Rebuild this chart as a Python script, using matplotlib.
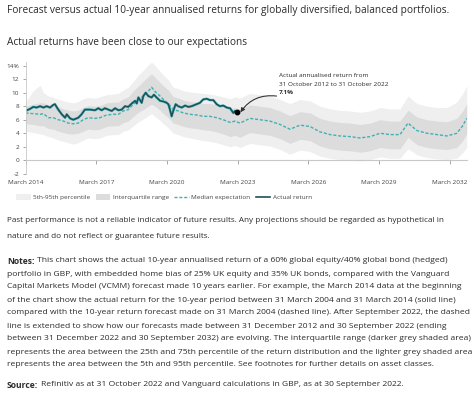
import matplotlib
matplotlib.use("Agg")
import matplotlib.pyplot as plt
from matplotlib.patches import Patch
from matplotlib.lines import Line2D

OUT_PNG = "out.png"

# x = дробный год (March 2014 = 2014.25)
ACT_X = [2014.25, 2014.44, 2014.58, 2014.72, 2014.87, 2015.01, 2015.15, 2015.29, 2015.43, 2015.50,
         2015.64, 2015.79, 2015.93, 2016.00, 2016.14, 2016.28, 2016.49, 2016.63, 2016.77, 2016.99,
         2017.20, 2017.34, 2017.48, 2017.62, 2017.76, 2017.91, 2018.05, 2018.19, 2018.33, 2018.47,
         2018.61, 2018.76, 2018.90, 2018.97, 2019.04, 2019.18, 2019.25, 2019.35, 2019.46, 2019.60,
         2019.70, 2019.81, 2019.96, 2020.10, 2020.24, 2020.31, 2020.38, 2020.45, 2020.52, 2020.62,
         2020.73, 2020.88, 2021.02, 2021.16, 2021.30, 2021.51, 2021.65, 2021.79, 2021.94, 2022.08,
         2022.22, 2022.36, 2022.50, 2022.64, 2022.79, 2022.93, 2023.07, 2023.14, 2023.22]
ACT_Y = [7.3, 7.6, 7.9, 7.8, 8.0, 7.8, 8.0, 7.8, 8.2, 8.3,
         7.5, 6.8, 6.3, 6.8, 6.2, 6.0, 6.3, 6.8, 7.5, 7.5,
         7.4, 7.7, 7.4, 7.7, 7.5, 7.3, 7.7, 7.4, 7.5, 8.0,
         7.9, 8.4, 8.8, 8.4, 9.3, 8.5, 9.5, 10.0, 9.5, 9.3,
         9.7, 9.3, 8.8, 8.7, 8.5, 8.3, 7.5, 6.5, 7.3, 8.3,
         8.0, 7.8, 8.1, 7.9, 8.0, 8.3, 8.5, 9.0, 9.1, 8.9,
         8.9, 8.3, 8.0, 8.1, 7.8, 7.7, 7.0, 7.3, 7.1]

MED_X = [2014.25, 2014.58, 2014.87, 2015.01, 2015.22, 2015.43, 2015.64, 2015.86, 2016.07, 2016.28,
         2016.49, 2016.70, 2016.91, 2017.20, 2017.41, 2017.69, 2017.98, 2018.19, 2018.40, 2018.61,
         2018.83, 2019.04, 2019.25, 2019.46, 2019.60, 2019.74, 2019.96, 2020.10, 2020.31, 2020.52,
         2020.73, 2020.95, 2021.23, 2021.51, 2021.79, 2022.08, 2022.36, 2022.64, 2022.93, 2023.14,
         2023.35, 2023.77, 2024.20, 2024.62, 2025.05, 2025.47, 2025.90, 2026.32, 2026.75, 2027.17,
         2027.59, 2028.02, 2028.44, 2028.87, 2029.30, 2029.72, 2030.14, 2030.48, 2030.86, 2031.28,
         2031.71, 2032.13, 2032.55, 2032.80, 2032.97]
MED_Y = [7.0, 6.9, 6.8, 6.9, 6.3, 6.3, 6.0, 5.8, 5.5, 5.4,
         5.5, 6.0, 6.3, 6.2, 6.3, 6.7, 6.8, 6.8, 7.3, 7.5,
         8.3, 9.0, 9.5, 10.2, 10.8, 10.2, 9.5, 9.0, 8.4, 7.5,
         7.3, 7.0, 6.8, 6.7, 6.5, 6.5, 6.3, 6.0, 5.6, 5.8,
         5.5, 6.2, 6.0, 5.8, 5.3, 4.6, 5.2, 5.0, 4.2, 3.8,
         3.6, 3.5, 3.3, 3.5, 4.0, 3.8, 3.8, 5.5, 4.4, 4.0,
         3.8, 3.6, 4.0, 5.1, 6.2]

P95 = [8.6, 10.3, 11.1, 10.0, 9.5, 9.3, 9.0, 8.8, 8.6, 8.5,
       8.7, 9.1, 9.3, 9.2, 9.4, 9.7, 9.8, 9.9, 10.4, 10.8,
       11.7, 12.6, 13.3, 14.1, 14.5, 14.0, 13.2, 12.6, 11.9, 10.8,
       10.6, 10.3, 10.1, 10.0, 9.9, 9.8, 9.6, 9.4, 9.1, 9.4,
       9.2, 9.9, 9.7, 9.5, 9.0, 8.4, 9.0, 8.8, 8.0, 7.6,
       7.4, 7.3, 7.1, 7.3, 7.8, 7.6, 7.6, 9.5, 8.4, 8.0,
       7.8, 7.8, 8.6, 9.9, 11.0]
P75 = [8.0, 8.3, 8.5, 8.5, 8.2, 8.1, 7.9, 7.6, 7.4, 7.3,
       7.4, 7.8, 8.1, 8.0, 8.1, 8.5, 8.6, 8.6, 9.1, 9.4,
       10.3, 11.0, 11.7, 12.4, 12.8, 12.3, 11.5, 11.0, 10.4, 9.4,
       9.2, 8.9, 8.7, 8.6, 8.4, 8.4, 8.2, 7.9, 7.6, 7.8,
       7.5, 8.2, 8.0, 7.8, 7.3, 6.6, 7.2, 7.0, 6.2, 5.8,
       5.6, 5.5, 5.3, 5.5, 6.0, 5.8, 5.8, 7.4, 6.4, 6.0,
       5.8, 5.7, 6.2, 7.3, 8.3]
P25 = [5.4, 5.3, 5.1, 5.1, 4.7, 4.6, 4.3, 4.1, 3.9, 3.9,
       4.0, 4.3, 4.6, 4.5, 4.6, 5.0, 5.1, 5.1, 5.6, 5.8,
       6.5, 7.1, 7.5, 8.0, 8.3, 8.0, 7.4, 6.9, 6.3, 5.5,
       5.3, 5.0, 4.8, 4.7, 4.5, 4.4, 4.2, 3.9, 3.5, 3.7,
       3.4, 4.1, 3.9, 3.7, 3.2, 2.5, 3.1, 2.9, 2.1, 1.7,
       1.5, 1.4, 1.2, 1.4, 1.9, 1.7, 1.7, 3.4, 2.3, 1.9,
       1.7, 1.6, 1.9, 2.9, 3.9]
P5 = [4.3, 4.1, 3.9, 3.8, 3.5, 3.3, 3.0, 2.8, 2.6, 2.4,
      2.6, 3.0, 3.3, 3.2, 3.3, 3.7, 3.8, 3.8, 4.3, 4.5,
      5.1, 5.7, 6.1, 6.6, 6.9, 6.5, 5.9, 5.4, 4.8, 4.0,
      3.8, 3.5, 3.3, 3.1, 2.9, 2.8, 2.6, 2.3, 2.0, 2.2,
      1.9, 2.5, 2.3, 2.1, 1.6, 0.9, 1.5, 1.3, 0.6, 0.3,
      0.1, 0.0, -0.1, 0.1, 0.5, 0.3, 0.3, 1.7, 0.8, 0.4,
      0.2, 0.1, 0.3, 1.1, 1.9]

TICK_YEARS = [2014.25, 2017.25, 2020.25, 2023.25, 2026.25, 2029.25, 2032.25]
TICK_LABELS = ["March 2014", "March 2017", "March 2020", "March 2023",
               "March 2026", "March 2029", "March 2032"]
Y_TICKS = [-2, 0, 2, 4, 6, 8, 10, 12, 14]
Y_LABELS = ["-2", "0", "2", "4", "6", "8", "10", "12", "14%"]

TITLE = "Forecast versus actual 10-year annualised returns for globally diversified, balanced portfolios."
SUBTITLE = "Actual returns have been close to our expectations"

PAST = [
    "Past performance is not a reliable indicator of future results. Any projections should be regarded as hypothetical in",
    "nature and do not reflect or guarantee future results.",
]
NOTES = [
    "This chart shows the actual 10-year annualised return of a 60% global equity/40% global bond (hedged)",
    "portfolio in GBP, with embedded home bias of 25% UK equity and 35% UK bonds, compared with the Vanguard",
    "Capital Markets Model (VCMM) forecast made 10 years earlier. For example, the March 2014 data at the beginning",
    "of the chart show the actual return for the 10-year period between 31 March 2004 and 31 March 2014 (solid line)",
    "compared with the 10-year return forecast made on 31 March 2004 (dashed line). After September 2022, the dashed",
    "line is extended to show how our forecasts made between 31 December 2012 and 30 September 2022 (ending",
    "between 31 December 2022 and 30 September 2032) are evolving. The interquartile range (darker grey shaded area)",
    "represents the area between the 25th and 75th percentile of the return distribution and the lighter grey shaded area",
    "represents the area between the 5th and 95th percentile. See footnotes for further details on asset classes.",
]
SOURCE = "Refinitiv as at 31 October 2022 and Vanguard calculations in GBP, as at 30 September 2022."

# правый край строк в референсе, px
NOTES_RIGHT = [447, 444, 460, 456, 458, 451, 464, 466, 404]

LIGHT = "#efefef"
DARK = "#dcdcdc"
MED_COL = "#3fb1b1"
ACT_COL = "#1f4f59"
TXT = "#2b2b2b"
FS_SMALL = 4.6
LEFT_PX = 7
MAX_RIGHT = 470

W, H = 474, 395


def fy(y_px):
    return 1 - y_px / H


def fx(x_px):
    return x_px / W


def line_width(fig, text, head=None, size=10.0):
    r = fig.canvas.get_renderer()
    w = 0.0
    if head:
        t = fig.text(0, 0, head, fontsize=size, fontweight="bold")
        w += t.get_window_extent(renderer=r).width + 0.28 * size * 100 / 72
        t.remove()
    t = fig.text(0, 0, text, fontsize=size)
    w += t.get_window_extent(renderer=r).width
    t.remove()
    return w


def fit_size(fig, text, right_px, head=None):
    return 10.0 * (right_px - LEFT_PX) / line_width(fig, text, head)


def put_line(fig, y_px, text, size, head=None):
    r = fig.canvas.get_renderer()
    # не вылезать за правый край
    size = min(size, fit_size(fig, text, MAX_RIGHT, head))
    x = LEFT_PX
    if head:
        t = fig.text(fx(x), fy(y_px), head, fontsize=size, fontweight="bold", color=TXT, va="center")
        x += t.get_window_extent(renderer=r).width + 0.28 * size * 100 / 72
    fig.text(fx(x), fy(y_px), text, fontsize=size, color=TXT, va="center")


def main():
    plt.rcParams["font.family"] = ["Open Sans", "DejaVu Sans"]

    fig = plt.figure(figsize=(W / 100, H / 100), dpi=100)
    ax = fig.add_axes([fx(25.5), fy(173.8), fx(467.4) - fx(25.5), fy(61.6) - fy(173.8)])

    ax.fill_between(MED_X, P5, P95, color=LIGHT, lw=0)
    ax.fill_between(MED_X, P25, P75, color=DARK, lw=0)
    ax.plot(MED_X, MED_Y, color=MED_COL, lw=1.0, ls=(0, (2.2, 1.3)))
    ax.plot(ACT_X, ACT_Y, color="#49b8b8", lw=1.8, solid_joinstyle="round")
    ax.plot(ACT_X, ACT_Y, color=ACT_COL, lw=1.1, solid_joinstyle="round")
    ax.plot([ACT_X[-1]], [ACT_Y[-1]], "o", color="black", ms=3.2, zorder=5)

    ax.set_xlim(2014.25, 2033.0)
    ax.set_ylim(-2, 14.6)
    for s in ["top", "right"]:
        ax.spines[s].set_visible(False)
    ax.spines["bottom"].set_position(("data", 0))
    ax.spines["bottom"].set_color("#c8c8c8")
    ax.spines["left"].set_color("#c8c8c8")
    ax.spines["bottom"].set_linewidth(0.8)
    ax.spines["left"].set_linewidth(0.6)

    ax.set_yticks(Y_TICKS)
    ax.set_yticklabels(Y_LABELS)
    ax.set_xticks(TICK_YEARS)
    ax.set_xticklabels(TICK_LABELS)
    ax.tick_params(axis="y", length=2.5, width=0.6, color="#999999", pad=2,
                   labelsize=FS_SMALL, labelcolor="#444444")
    ax.tick_params(axis="x", length=3, width=0.6, color="#999999", pad=11,
                   labelsize=FS_SMALL, labelcolor="#444444")

    # стрелка к последней точке фактической доходности
    ax.annotate("", xy=(ACT_X[-1] + 0.15, ACT_Y[-1]), xytext=(2024.9, 9.5),
                arrowprops=dict(arrowstyle="-|>", color="#333333", lw=0.8,
                                mutation_scale=6, shrinkA=0, shrinkB=0,
                                connectionstyle="arc3,rad=0.3"))
    ax.text(2025.0, 12.47, "Actual annualised return from", fontsize=FS_SMALL, color=TXT, va="center")
    ax.text(2025.0, 11.2, "31 October 2012 to 31 October 2022", fontsize=FS_SMALL, color=TXT, va="center")
    ax.text(2025.0, 10.0, "7.1%", fontsize=FS_SMALL, color=TXT, va="center", fontweight="bold")

    handles = [
        Patch(facecolor=LIGHT, edgecolor="none", label="5th-95th percentile"),
        Patch(facecolor=DARK, edgecolor="none", label="Interquartile range"),
        Line2D([], [], color=MED_COL, lw=1.0, ls=(0, (2.2, 1.3)), label="Median expectation"),
        Line2D([], [], color=ACT_COL, lw=1.2, label="Actual return"),
    ]
    fig.legend(handles=handles, loc="center", bbox_to_anchor=(fx(164), fy(197)), ncol=4,
               frameon=False, fontsize=FS_SMALL, handlelength=2.3, handleheight=1.0,
               columnspacing=0.8, handletextpad=0.4, labelcolor="#444444")

    head_size = fit_size(fig, TITLE, 445)
    put_line(fig, 10, TITLE, head_size)
    put_line(fig, 43, SUBTITLE, head_size)

    past_size = fit_size(fig, PAST[0], 443)
    y = 220
    for line in PAST:
        put_line(fig, y, line, past_size)
        y += 17

    sizes = sorted(fit_size(fig, line, right, head="Notes:" if i == 0 else None)
                   for i, (line, right) in enumerate(zip(NOTES, NOTES_RIGHT)))
    body_size = sizes[len(sizes) // 2]

    y = 261
    for i, line in enumerate(NOTES):
        put_line(fig, y, line, body_size, head="Notes:" if i == 0 else None)
        y += 13

    put_line(fig, 385, SOURCE, body_size, head="Source:")

    fig.savefig(OUT_PNG, dpi=100)
    plt.close(fig)


if __name__ == "__main__":
    main()
